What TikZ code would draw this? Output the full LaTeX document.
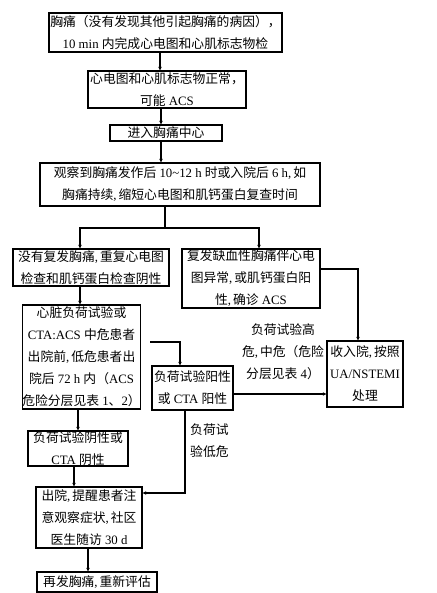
\documentclass[tikz,border=0pt]{standalone}
\usepackage{fontspec}
\setmainfont{Liberation Serif}
\newfontfamily\cjk{Noto Sans CJK SC}
\usetikzlibrary{arrows.meta}
\newcommand{\zh}[1]{{\cjk #1}}
\newcommand{\cm}{,\hspace{2pt}}
\begin{document}
\begin{tikzpicture}[x=1pt,y=-1pt,
  box/.style={draw, line width=1.4pt, inner sep=0pt, align=center, font=\fontsize{12.8}{22}\selectfont},
  lbl/.style={inner sep=0pt, font=\fontsize{12.8}{22}\selectfont},
  arr/.style={line width=1.4pt, -{Stealth[length=3.5pt,width=3.5pt]}},
  ln/.style={line width=1.4pt}]
\useasboundingbox (0,0) rectangle (436,593);
% boxes
\node[box, minimum width=233pt, minimum height=39pt] (b1) at (165.5,32.5)
  {\zh{胸痛（没有发现其他引起胸痛的病因），}\\10 min \zh{内完成心电图和心肌标志物检}};
\node[box, minimum width=158pt, minimum height=37pt] (b2) at (167,89.5)
  {\zh{心电图和心肌标志物正常，}\\\zh{可能} ACS};
\node[box, minimum width=112pt, minimum height=16pt] (b3) at (166,133)
  {\zh{进入胸痛中心}};
\node[box, minimum width=280pt, minimum height=43pt] (b4) at (180,184.5)
  {\zh{观察到胸痛发作后} 10\textasciitilde12 h \zh{时或入院后} 6 h\cm\zh{如}\\\zh{胸痛持续}\cm\zh{缩短心电图和肌钙蛋白复查时间}};
\node[box, minimum width=156pt, minimum height=37pt] (b5) at (91,267.5)
  {\zh{没有复发胸痛}\cm\zh{重复心电图}\\\zh{检查和肌钙蛋白检查阴性}};
\node[box, minimum width=138pt, minimum height=59pt] (b6) at (251,278.5)
  {\zh{复发缺血性胸痛伴心电}\\\zh{图异常}\cm\zh{或肌钙蛋白阳}\\\zh{性}\cm\zh{确诊} ACS};
\node[box, minimum width=76pt, minimum height=66pt] (b7) at (365,374)
  {\zh{收入院}\cm\zh{按照}\\UA/NSTEMI\\\zh{处理}};
\node[box, minimum width=115pt, minimum height=104pt] (b8) at (81.5,357)
  {\zh{心脏负荷试验或}\\CTA:ACS \zh{中危患者}\\\zh{出院前}\cm\zh{低危患者出}\\\zh{院后} 72 h \zh{内（}ACS\\\zh{危险分层见表} 1\zh{、}2\zh{）}};
\node[box, minimum width=81pt, minimum height=44pt] (b9) at (192.5,388)
  {\zh{负荷试验阳性}\\\zh{或} CTA \zh{阳性}};
\node[box, minimum width=100pt, minimum height=35pt] (b10) at (78,448.5)
  {\zh{负荷试验阴性或}\\CTA \zh{阴性}};
\node[box, minimum width=106pt, minimum height=61pt] (b11) at (89,517.5)
  {\zh{出院}\cm\zh{提醒患者注}\\\zh{意观察症状}\cm\zh{社区}\\\zh{医生随访} 30 d};
\node[box, minimum width=120pt, minimum height=20pt] (b12) at (97,582)
  {\zh{再发胸痛}\cm\zh{重新评估}};
% labels
\node[lbl, align=center] (l1) at (283,352) {\zh{负荷试验高}\\\zh{危}\cm\zh{中危（危险}\\\zh{分层见表} 4\zh{）}};
\node[lbl, align=left, anchor=west] (l2) at (190,441) {\zh{负荷试}\\\zh{验低危}};
% helper coordinates
\coordinate (x160) at (160,0);
\coordinate (x161) at (161,0);
\coordinate (x165) at (165,0);
\coordinate (x80) at (80,0);
\coordinate (x259) at (259,0);
\coordinate (x358) at (358,0);
\coordinate (x180) at (180,0);
\coordinate (x185) at (185,0);
\coordinate (x78) at (78,0);
\coordinate (x74) at (74,0);
\coordinate (x88) at (88,0);
\coordinate (y269) at (0,269);
\coordinate (y394) at (0,394);
\coordinate (y493) at (0,493);
\coordinate (jn) at (165,228);
\coordinate (s89) at (150,342);
% connectors
\draw[arr] (b1.south -| x160) -- (b2.north -| x160);
\draw[arr] (b2.south -| x161) -- (b3.north -| x161);
\draw[arr] (b3.south -| x161) -- (b4.north -| x161);
\draw[ln] (b4.south -| x165) -- (jn);
\draw[arr] (jn) -| (b5.north -| x80);
\draw[arr] (jn) -| (b6.north -| x259);
\draw[arr] (b6.east |- y269) -| (b7.north -| x358);
\draw[arr] (b5.south -| x80) -- (b8.north -| x80);
\draw[arr] (s89) -| (b9.north -| x180);
\draw[arr] (b9.east |- y394) -- (b7.west |- y394);
\draw[arr] (b9.south -| x185) |- (b11.east |- y493);
\draw[arr] (b8.south -| x78) -- (b10.north -| x78);
\draw[arr] (b10.south -| x74) -- (b11.north -| x74);
\draw[arr] (b11.south -| x88) -- (b12.north -| x88);
\end{tikzpicture}
\end{document}
